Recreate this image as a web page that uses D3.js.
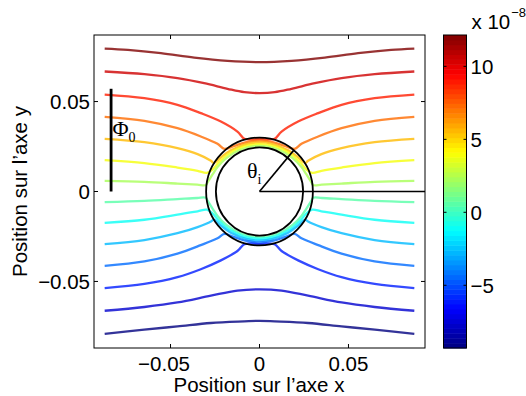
<!DOCTYPE html>
<html><head><meta charset="utf-8">
<script src="https://cdn.jsdelivr.net/npm/d3@7"></script>
<style>body{margin:0;background:#fff}svg{display:block}text{font-family:"Liberation Sans",Arial,sans-serif;fill:#000}</style>
</head><body>
<svg id="chart" width="526" height="396"></svg>
<script>
// ---- data ----
const xLimits = [-0.093, 0.093];
const yLimits = [-0.087, 0.087];
const xTicks = [-0.05, 0, 0.05];
const xTickLabels = ["−0.05", "0", "0.05"];
const yTicks = [-0.05, 0, 0.05];
const yTickLabels = ["−0.05", "0", "0.05"];
const cbLimits = [-9.3, 12.15];
const cbTicks = [-5, 0, 5, 10];
const cbTickLabels = ["−5", "0", "5", "10"];
const levels = [12.15, 10.5, 8.85, 7.2, 5.55, 3.9, 2.25, 0.6, -1.05, -2.7, -4.35, -6.0, -7.65, -9.3];

const curve01 = [[-0.087,0.0794],[-0.074,0.0787],[-0.0554,0.0769],[-0.0367,0.0744],[-0.018,0.0726],[0,0.0719],[0.018,0.0726],[0.0367,0.0744],[0.0554,0.0769],[0.074,0.0787],[0.087,0.0794]];
const curve02 = [[-0.087,0.0667],[-0.0647,0.0652],[-0.0461,0.063],[-0.0311,0.0602],[-0.018,0.0571],[-0.0086,0.0552],[0,0.0547],[0.0086,0.0552],[0.018,0.0571],[0.0311,0.0602],[0.0461,0.063],[0.0647,0.0652],[0.087,0.0667]];
const curve03 = [[-0.087,0.0539],[-0.0647,0.0519],[-0.0461,0.0482],[-0.033,0.0436],[-0.0217,0.0389],[-0.0124,0.0333],[-0.0085,0.0293],[-0.0041,0.029],[0,0.0292],[0.0041,0.029],[0.0085,0.0293],[0.0124,0.0333],[0.0217,0.0389],[0.033,0.0436],[0.0461,0.0482],[0.0647,0.0519],[0.087,0.0539]];
const curve04 = [[-0.087,0.0415],[-0.0647,0.0393],[-0.0461,0.0352],[-0.033,0.0306],[-0.0236,0.0265],[-0.0197,0.0237],[-0.0146,0.0252],[-0.0074,0.0275],[0,0.0283],[0.0074,0.0275],[0.0146,0.0252],[0.0197,0.0237],[0.0236,0.0265],[0.033,0.0306],[0.0461,0.0352],[0.0647,0.0393],[0.087,0.0415]];
const curve05 = [[-0.087,0.0293],[-0.0647,0.0274],[-0.0461,0.0241],[-0.0348,0.0208],[-0.0273,0.0171],[-0.0257,0.0158],[-0.0222,0.0186],[-0.0161,0.0229],[-0.0071,0.0265],[0,0.0273],[0.0071,0.0265],[0.0161,0.0229],[0.0222,0.0186],[0.0257,0.0158],[0.0273,0.0171],[0.0348,0.0208],[0.0461,0.0241],[0.0647,0.0274],[0.087,0.0293]];
const curve06 = [[-0.087,0.0174],[-0.0647,0.0158],[-0.0461,0.0133],[-0.0348,0.0115],[-0.0296,0.0104],[-0.0263,0.0123],[-0.023,0.0161],[-0.0175,0.0208],[-0.0091,0.0249],[0,0.0263],[0.0091,0.0249],[0.0175,0.0208],[0.023,0.0161],[0.0263,0.0123],[0.0296,0.0104],[0.0348,0.0115],[0.0461,0.0133],[0.0647,0.0158],[0.087,0.0174]];
const curve07 = [[-0.087,0.0059],[-0.0647,0.0054],[-0.0461,0.0044],[-0.035,0.0038],[-0.0302,0.0036],[-0.0292,0.0051],[-0.0263,0.0096],[-0.0236,0.0136],[-0.0186,0.0186],[-0.0108,0.0232],[0,0.0254],[0.0108,0.0232],[0.0186,0.0186],[0.0236,0.0136],[0.0263,0.0096],[0.0292,0.0051],[0.0302,0.0036],[0.035,0.0038],[0.0461,0.0044],[0.0647,0.0054],[0.087,0.0059]];
const curve08 = [[-0.087,-0.0059],[-0.0647,-0.0052],[-0.0461,-0.0042],[-0.035,-0.0036],[-0.0302,-0.0035],[-0.0292,-0.0051],[-0.0263,-0.0096],[-0.0236,-0.0136],[-0.0186,-0.0186],[-0.0108,-0.0232],[0,-0.0254],[0.0108,-0.0232],[0.0186,-0.0186],[0.0236,-0.0136],[0.0263,-0.0096],[0.0292,-0.0051],[0.0302,-0.0035],[0.035,-0.0036],[0.0461,-0.0042],[0.0647,-0.0052],[0.087,-0.0059]];
const curve09 = [[-0.087,-0.0174],[-0.0647,-0.0157],[-0.0461,-0.0129],[-0.0348,-0.011],[-0.0296,-0.0101],[-0.0263,-0.0123],[-0.023,-0.0161],[-0.0175,-0.0208],[-0.0091,-0.0249],[0,-0.0263],[0.0091,-0.0249],[0.0175,-0.0208],[0.023,-0.0161],[0.0263,-0.0123],[0.0296,-0.0101],[0.0348,-0.011],[0.0461,-0.0129],[0.0647,-0.0157],[0.087,-0.0174]];
const curve10 = [[-0.087,-0.0292],[-0.0647,-0.027],[-0.0461,-0.0232],[-0.0348,-0.0198],[-0.0273,-0.0167],[-0.0257,-0.0156],[-0.0222,-0.0186],[-0.0161,-0.0229],[-0.0071,-0.0265],[0,-0.0273],[0.0071,-0.0265],[0.0161,-0.0229],[0.0222,-0.0186],[0.0257,-0.0156],[0.0273,-0.0167],[0.0348,-0.0198],[0.0461,-0.0232],[0.0647,-0.027],[0.087,-0.0292]];
const curve11 = [[-0.087,-0.0413],[-0.0647,-0.0389],[-0.0461,-0.0345],[-0.033,-0.0298],[-0.0236,-0.026],[-0.0197,-0.0236],[-0.0146,-0.0252],[-0.0074,-0.0275],[0,-0.0283],[0.0074,-0.0275],[0.0146,-0.0252],[0.0197,-0.0236],[0.0236,-0.026],[0.033,-0.0298],[0.0461,-0.0345],[0.0647,-0.0389],[0.087,-0.0413]];
const curve12 = [[-0.087,-0.0537],[-0.0647,-0.0514],[-0.0461,-0.0476],[-0.033,-0.0432],[-0.0217,-0.0383],[-0.0124,-0.0331],[-0.0085,-0.0293],[-0.0041,-0.029],[0,-0.0292],[0.0041,-0.029],[0.0085,-0.0293],[0.0124,-0.0331],[0.0217,-0.0383],[0.033,-0.0432],[0.0461,-0.0476],[0.0647,-0.0514],[0.087,-0.0537]];
const curve13 = [[-0.087,-0.0663],[-0.0647,-0.0642],[-0.0461,-0.0617],[-0.0273,-0.0579],[-0.0124,-0.0551],[0,-0.0544],[0.0124,-0.0551],[0.0273,-0.0579],[0.0461,-0.0617],[0.0647,-0.0642],[0.087,-0.0663]];
const curve14 = [[-0.087,-0.0791],[-0.0648,-0.0768],[-0.0461,-0.075],[-0.0273,-0.0731],[-0.0086,-0.0722],[0,-0.0719],[0.0086,-0.0722],[0.0273,-0.0731],[0.0461,-0.075],[0.0648,-0.0768],[0.087,-0.0791]];
const curves = [curve01,curve02,curve03,curve04,curve05,curve06,curve07,curve08,curve09,curve10,curve11,curve12,curve13,curve14];

const shellRadii = [0.0245, 0.03];
const horizontalRay = [[0,0],[0.093,0]];
const angleRay = [[0,0],[0.0193,0.023]];
const phiBar = [[-0.0834,0],[-0.0834,0.0571]];

// ---- layout ----
const svg = d3.select("#chart");
const P = {l:94, r:425, t:35, b:348};
const x = d3.scaleLinear().domain(xLimits).range([P.l, P.r]);
const y = d3.scaleLinear().domain(yLimits).range([P.b, P.t]);

function jet(t){
  const c = v => Math.max(0, Math.min(1, v));
  const r = c(1.5 - Math.abs(4*t - 3)), g = c(1.5 - Math.abs(4*t - 2)), b = c(1.5 - Math.abs(4*t - 1));
  return d3.rgb(r*255, g*255, b*255).toString();
}
const cnorm = d3.scaleLinear().domain(cbLimits).range([0,1]);

svg.append("defs").append("clipPath").attr("id","clip")
  .append("rect").attr("x",P.l).attr("y",P.t).attr("width",P.r-P.l).attr("height",P.b-P.t);

const line = d3.line().x(d=>x(d[0])).y(d=>y(d[1])).curve(d3.curveCatmullRom.alpha(0.5));
const gl = svg.append("g").attr("clip-path","url(#clip)");
gl.selectAll("path.c").data(curves).join("path").attr("class","c")
  .attr("d", line).attr("fill","none")
  .attr("stroke", (d,i)=>jet(cnorm(levels[i])))
  .attr("stroke-width", 2.3).attr("stroke-opacity", 0.8).attr("stroke-linejoin","round");

// shell circles
gl.selectAll("ellipse").data(shellRadii).join("ellipse")
  .attr("cx", x(0)).attr("cy", y(0))
  .attr("rx", d=>x(d)-x(0)).attr("ry", d=>y(0)-y(d))
  .attr("fill","none").attr("stroke","#000").attr("stroke-width",1.8);

const straight = d3.line().x(d=>x(d[0])).y(d=>y(d[1]));
gl.append("path").attr("d", straight(horizontalRay)).attr("stroke","#000").attr("stroke-width",1.6);
gl.append("path").attr("d", straight(angleRay)).attr("stroke","#000").attr("stroke-width",1.6);
gl.append("path").attr("d", straight(phiBar)).attr("stroke","#000").attr("stroke-width",2.8);

// frame + ticks
svg.append("rect").attr("x",P.l).attr("y",P.t).attr("width",P.r-P.l).attr("height",P.b-P.t)
  .attr("fill","none").attr("stroke","#000").attr("stroke-width",1);
const tl = 4;
xTicks.forEach(v=>{
  svg.append("line").attr("x1",x(v)).attr("x2",x(v)).attr("y1",P.b).attr("y2",P.b-tl).attr("stroke","#000");
  svg.append("line").attr("x1",x(v)).attr("x2",x(v)).attr("y1",P.t).attr("y2",P.t+tl).attr("stroke","#000");
});
yTicks.forEach(v=>{
  svg.append("line").attr("y1",y(v)).attr("y2",y(v)).attr("x1",P.l).attr("x2",P.l+tl).attr("stroke","#000");
  svg.append("line").attr("y1",y(v)).attr("y2",y(v)).attr("x1",P.r).attr("x2",P.r-tl).attr("stroke","#000");
});
const fs = 20.5;
svg.selectAll("text.xt").data(xTicks).join("text").attr("class","xt")
  .attr("x", (d,i)=>x(d) - (xTickLabels[i].startsWith("−") ? 6.5 : 0)).attr("y", 371)
  .attr("text-anchor","middle").style("font-size",fs+"px").text((d,i)=>xTickLabels[i]);
svg.selectAll("text.yt").data(yTicks).join("text").attr("class","yt")
  .attr("x", 90).attr("y", d=>y(d)+7.3)
  .attr("text-anchor","end").style("font-size",fs+"px").text((d,i)=>yTickLabels[i]);
svg.append("text").attr("x", (P.l+P.r)/2 - 0.5).attr("y", 392).attr("text-anchor","middle")
  .style("font-size",fs+"px").text("Position sur l’axe x");
svg.append("text").attr("transform","translate(26.7,"+((P.t+P.b)/2)+") rotate(-90)").attr("text-anchor","middle")
  .style("font-size",fs+"px").text("Position sur l’axe y");

// annotations
const phi = svg.append("text").attr("x",112.5).attr("y",136).style("font-family","'Liberation Serif','Times New Roman',serif").style("font-size","22px");
phi.append("tspan").text("Φ");
phi.append("tspan").attr("dy",6).style("font-size","14px").text("0");
const th = svg.append("text").attr("x",247).attr("y",177.5).style("font-family","'Liberation Serif','Times New Roman',serif").style("font-size","22px");
th.append("tspan").text("θ");
th.append("tspan").attr("dy",6).style("font-size","14px").text("i");

// colorbar
const CB = {l:443.5, r:466.5};
const cy = d3.scaleLinear().domain(cbLimits).range([P.b, P.t]);
const nb = 64;
const bands = d3.range(nb);
const step = (cbLimits[1]-cbLimits[0])/nb;
svg.selectAll("rect.cb").data(bands).join("rect").attr("class","cb")
  .attr("x",CB.l).attr("width",CB.r-CB.l)
  .attr("y", i=>cy(cbLimits[0]+(i+1)*step)).attr("height", i=>cy(cbLimits[0]+i*step)-cy(cbLimits[0]+(i+1)*step)+0.5)
  .attr("fill", i=>jet((i+0.5)/nb));
svg.append("rect").attr("x",CB.l).attr("y",P.t).attr("width",CB.r-CB.l).attr("height",P.b-P.t)
  .attr("fill","none").attr("stroke","#000").attr("stroke-width",1);
cbTicks.forEach((v,i)=>{
  svg.append("line").attr("x1",CB.l).attr("x2",CB.l+3).attr("y1",cy(v)).attr("y2",cy(v)).attr("stroke","#000");
  svg.append("line").attr("x1",CB.r).attr("x2",CB.r-3).attr("y1",cy(v)).attr("y2",cy(v)).attr("stroke","#000");
  svg.append("text").attr("x",470.5).attr("y",cy(v)+7.3).style("font-size",fs+"px").text(cbTickLabels[i]);
});
const ex = svg.append("text").attr("x",471.5).attr("y",28.5).style("font-size",fs+"px");
ex.append("tspan").text("x 10");
ex.append("tspan").attr("dy",-11.5).attr("dx",1).style("font-size","13px").text("−8");
</script>
</body></html>
